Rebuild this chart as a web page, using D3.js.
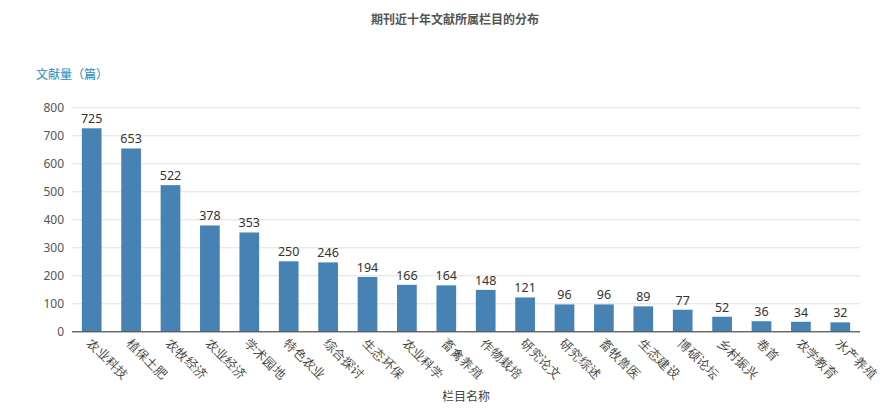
<!DOCTYPE html>
<html><head><meta charset="utf-8">
<script src="https://cdn.jsdelivr.net/npm/d3@7/dist/d3.min.js"></script>
<style>body{margin:0;background:#fff;} svg{display:block;font-family:"Noto Sans CJK SC","Noto Sans",sans-serif;}</style>
</head><body>
<svg id="c" width="896" height="419"></svg>
<script>
const categories = ["农业科技","植保土肥","农牧经济","农业经济","学术园地","特色农业","综合探讨","生态环保","农业科学","畜禽养殖","作物栽培","研究论文","研究综述","畜牧兽医","生态建设","博硕论坛","乡村振兴","卷首","农学教育","水产养殖"];
const values = [725,653,522,378,353,250,246,194,166,164,148,121,96,96,89,77,52,36,34,32];
const yTicks = [0,100,200,300,400,500,600,700,800];
const titleText = "期刊近十年文献所属栏目的分布";
const yName = "文献量（篇）";
const xName = "栏目名称";

const svg = d3.select("#c");
const m = {l:72, r:860, t:107.3, b:331.3};
const x = d3.scaleBand().domain(categories).range([m.l, m.r]).paddingInner(0.5).paddingOuter(0.25);
const y = d3.scaleLinear().domain([0,800]).range([m.b, m.t]);

svg.append("text").attr("x",455).attr("y",24).attr("text-anchor","middle")
  .attr("font-size",12).attr("font-weight","bold").attr("fill","#555").text(titleText);
svg.append("text").attr("x",36).attr("y",79).attr("font-size",12).attr("fill","#1f8ac0").text(yName);
svg.append("text").attr("x",466).attr("y",401).attr("text-anchor","middle").attr("font-size",12).attr("fill","#444").text(xName);

// grid + y labels
const yAxis = d3.axisLeft(y).tickValues(yTicks).tickSize(-(m.r-m.l)).tickPadding(8);
const gy = svg.append("g").attr("transform",`translate(${m.l},0)`).call(yAxis);
gy.select(".domain").remove();
gy.selectAll(".tick line").attr("stroke","#e0e0e0").attr("stroke-width",1);
gy.selectAll(".tick text").attr("fill","#555").attr("font-size",12).attr("font-family","'Noto Sans',sans-serif");

// bars
svg.append("g").selectAll("rect").data(values).join("rect")
  .attr("x",(d,i)=>x(categories[i])).attr("width",x.bandwidth())
  .attr("y",d=>y(d)).attr("height",d=>y(0)-y(d)).attr("fill","#4682b4");

// value labels
svg.append("g").selectAll("text").data(values).join("text")
  .attr("x",(d,i)=>x(categories[i])+x.bandwidth()/2).attr("y",d=>y(d)-5)
  .attr("text-anchor","middle").attr("font-size",12.5).attr("fill","#333")
  .attr("font-family","'Noto Sans',sans-serif").text(d=>d);

// x axis
const xAxis = d3.axisBottom(x).tickSize(0).tickPadding(0);
const gx = svg.append("g").attr("transform",`translate(0,${m.b})`).call(xAxis);
gx.select(".domain").attr("stroke","#333").attr("d",`M${m.l},0.5H${m.r}`);
gx.selectAll(".tick text").attr("font-size",12.5).attr("fill","#444")
  .attr("text-anchor","start").attr("dy",null).attr("y",null)
  .attr("transform","translate(1,6) rotate(45)").attr("dominant-baseline","hanging");
</script>
</body></html>
